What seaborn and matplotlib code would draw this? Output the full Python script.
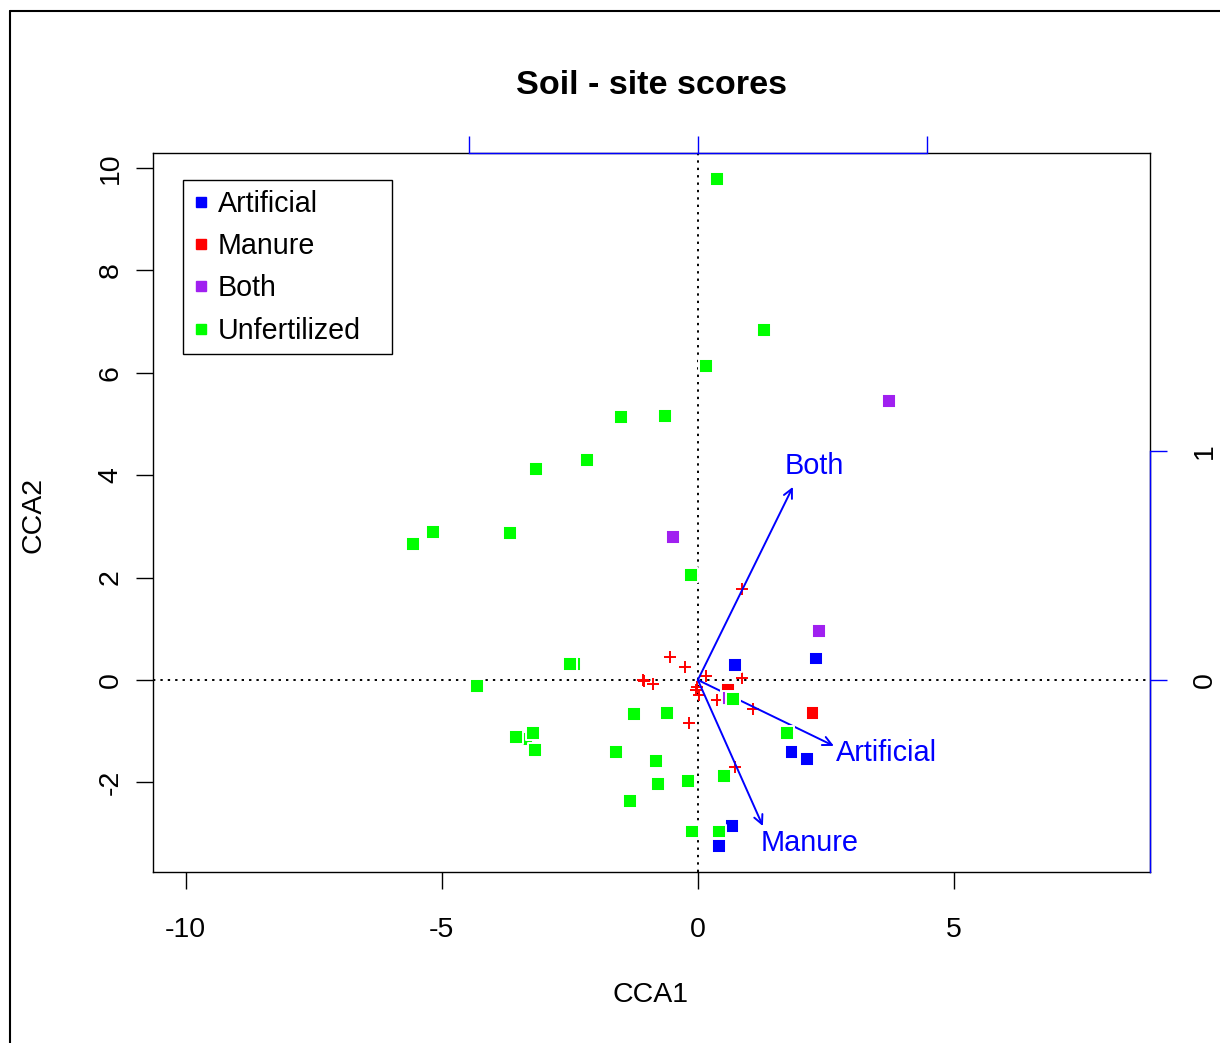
import numpy as np
import pandas as pd
import matplotlib
matplotlib.use("Agg")
import matplotlib.pyplot as plt
from matplotlib.lines import Line2D
import seaborn as sns

# ---------------- data ----------------
groups = ["Artificial", "Manure", "Both", "Unfertilized"]
group_colors = ["#0000FF", "#FF0000", "#A020F0", "#00FF00"]

art_x = [0.72, 2.30, 1.83, 2.13, 0.66, 0.42]
art_y = [0.29, 0.42, -1.40, -1.54, -2.86, -3.25]
man_x = [2.24, 0.59]
man_y = [-0.64, -0.20]
both_x = [3.73, -0.49, 2.36, 0.61]
both_y = [5.45, 2.79, 0.96, -0.35]
unf_x = [0.37, 1.29, 0.16, -1.50, -0.64, -2.17, -3.16, -5.18, -5.57, -3.67,
         -0.14, -2.41, -2.49, -4.31, -3.36, -3.55, -3.22, -3.18, -1.25, -0.60,
         -1.60, -0.81, -0.78, -0.19, -1.33, -0.11, 0.42, 0.51, 0.69, 1.74]
unf_y = [9.79, 6.84, 6.13, 5.14, 5.16, 4.30, 4.12, 2.89, 2.66, 2.87,
         2.05, 0.31, 0.31, -0.11, -1.15, -1.11, -1.04, -1.37, -0.67, -0.65,
         -1.40, -1.58, -2.04, -1.97, -2.37, -2.96, -2.96, -1.88, -0.37, -1.03]

spec_x = [0.87, -0.55, -0.25, -1.05, -1.08, -0.87, 0.15, 0.87, -0.01, -0.03,
          0.02, 0.38, 1.08, -0.17, 0.72]
spec_y = [1.77, 0.44, 0.25, -0.02, -0.01, -0.08, 0.08, 0.03, -0.14, -0.20,
          -0.29, -0.40, -0.56, -0.85, -1.69]

bp_names = ["Both", "Artificial", "Manure"]
bp_x = [0.415, 0.594, 0.284]
bp_y = [0.843, -0.288, -0.638]
bp_lab_x = [0.507, 0.825, 0.489]
bp_lab_y = [0.934, -0.319, -0.712]

xticks = [-10, -5, 0, 5]
yticks = [-2, 0, 2, 4, 6, 8, 10]
bp_top_ticks = [-1, 0, 1]
bp_right_ticks = [0, 1]

# ---------------- style ----------------
sns.set_style("ticks")
plt.rcParams["font.family"] = ["Liberation Sans", "DejaVu Sans"]
plt.rcParams["text.color"] = "black"
plt.rcParams["axes.labelcolor"] = "black"
plt.rcParams["xtick.color"] = "black"
plt.rcParams["ytick.color"] = "black"
plt.rcParams["xtick.labelcolor"] = "black"
plt.rcParams["ytick.labelcolor"] = "black"

W, H = 1220, 1043
fig = plt.figure(figsize=(W / 100, H / 100), dpi=100)
ax = fig.add_axes([153 / W, 1 - 872 / H, (1150 - 153) / W, (872 - 153) / H])

xlim = (-10.64, 8.83)
ylim = (-3.75, 10.29)
mul = 4.473

sites = pd.DataFrame({
    "x": art_x + man_x + both_x + unf_x,
    "y": art_y + man_y + both_y + unf_y,
    "group": (["Artificial"] * len(art_x) + ["Manure"] * len(man_x)
              + ["Both"] * len(both_x) + ["Unfertilized"] * len(unf_x)),
})
species = pd.DataFrame({"x": spec_x, "y": spec_y})

# zero lines
ax.axhline(0, color="black", lw=1.4, ls=(0, (1.2, 2.6)), zorder=1)
ax.axvline(0, color="black", lw=1.4, ls=(0, (1.2, 2.6)), zorder=1)

# species crosses
sns.scatterplot(data=species, x="x", y="y", marker="+", color="#FF0000",
                s=80, linewidth=1.4, ax=ax, zorder=2, legend=False)

# biplot arrows
for name, bx, by, lx, ly in zip(bp_names, bp_x, bp_y, bp_lab_x, bp_lab_y):
    ax.annotate("", xy=(bx * mul, by * mul), xytext=(0, 0),
                arrowprops=dict(arrowstyle="->,head_length=0.65,head_width=0.32",
                                color="#0000FF", lw=1.4, shrinkA=0, shrinkB=0),
                zorder=3)
    ax.text(lx * mul, ly * mul, name, color="#0000FF", fontsize=20.8,
            ha="center", va="center", zorder=3)

# site squares
sns.scatterplot(data=sites, x="x", y="y", hue="group", hue_order=groups,
                palette=group_colors, marker="s", s=100, edgecolor="white",
                linewidth=1.4, ax=ax, zorder=4, legend=False)

ax.set_xlim(*xlim)
ax.set_ylim(*ylim)
ax.set_xticks(xticks)
ax.set_yticks(yticks)
ax.set_xticklabels([str(t) for t in xticks])
ax.set_yticklabels([str(t) for t in yticks])
ax.set_xlabel("")
ax.set_ylabel("")
for s in ax.spines.values():
    s.set_visible(True)
    s.set_color("black")
    s.set_linewidth(1.0)
ax.tick_params(axis="both", direction="out", length=12.2, width=1.0,
               color="black", labelcolor="black", labelsize=20.5)
ax.tick_params(axis="x", pad=20)
ax.tick_params(axis="y", pad=9)
for lab in ax.get_yticklabels():
    lab.set_rotation(90)
    lab.set_va("center")

# biplot axes (top & right)
axt = ax.twiny()
axt.set_xlim(xlim[0] / mul, xlim[1] / mul)
axt.set_xticks(bp_top_ticks)
axt.set_xticklabels([])
axr = ax.twinx()
axr.set_ylim(ylim[0] / mul, ylim[1] / mul)
axr.set_yticks(bp_right_ticks)
axr.set_yticklabels([str(t) for t in bp_right_ticks])
for a in (axt, axr):
    for s in a.spines.values():
        s.set_visible(False)
axt.spines["top"].set_visible(True)
axt.spines["top"].set_color("#0000FF")
axt.spines["top"].set_linewidth(1.0)
axt.spines["top"].set_bounds(-1, 1)
axt.tick_params(axis="x", direction="out", length=12.2, width=1.0, color="#0000FF")
axr.spines["right"].set_visible(True)
axr.spines["right"].set_color("#0000FF")
axr.spines["right"].set_linewidth(1.0)
axr.spines["right"].set_bounds(ylim[0] / mul, 1)
axr.tick_params(axis="y", direction="out", length=12.2, width=1.0,
                color="#0000FF", labelcolor="black", labelsize=20.5, pad=18)
for lab in axr.get_yticklabels():
    lab.set_rotation(90)
    lab.set_va("center")
    lab.set_ha("left")

# legend
handles = [Line2D([], [], marker="s", ls="", color=c, markersize=7.5)
           for c in group_colors]
leg = ax.legend(handles, groups, loc="upper left", mode="expand",
                bbox_to_anchor=(30 / 997, 1 - 27 / 719 - 0.3, 209 / 997, 0.3),
                borderaxespad=0,
                fontsize=20.6, frameon=True, fancybox=False, framealpha=1,
                edgecolor="black", handlelength=0.55, handletextpad=0.32,
                borderpad=0.34, labelspacing=0.5)
leg.get_frame().set_linewidth(1.0)
leg.set_zorder(10)
for t in leg.get_texts():
    t.set_color("black")

# titles / labels
fig.text(651 / W, 1 - 86 / H, "Soil - site scores", ha="center", va="center",
         fontsize=24.6, fontweight="bold", color="black")
fig.text(651 / W, 1 - 995 / H, "CCA1", ha="center", va="center", fontsize=20.5,
         color="black")
fig.text(33 / W, 1 - 515 / H, "CCA2", ha="center", va="center", fontsize=20.5,
         rotation=90, color="black")

# outer frame (left and top edges visible)
fig.add_artist(Line2D([10 / W, 10 / W], [0, 1 - 11 / H], color="black", lw=1.5,
                      transform=fig.transFigure))
fig.add_artist(Line2D([10 / W, 1], [1 - 11 / H, 1 - 11 / H], color="black", lw=1.5,
                      transform=fig.transFigure))

fig.savefig("out.png", dpi=100)
